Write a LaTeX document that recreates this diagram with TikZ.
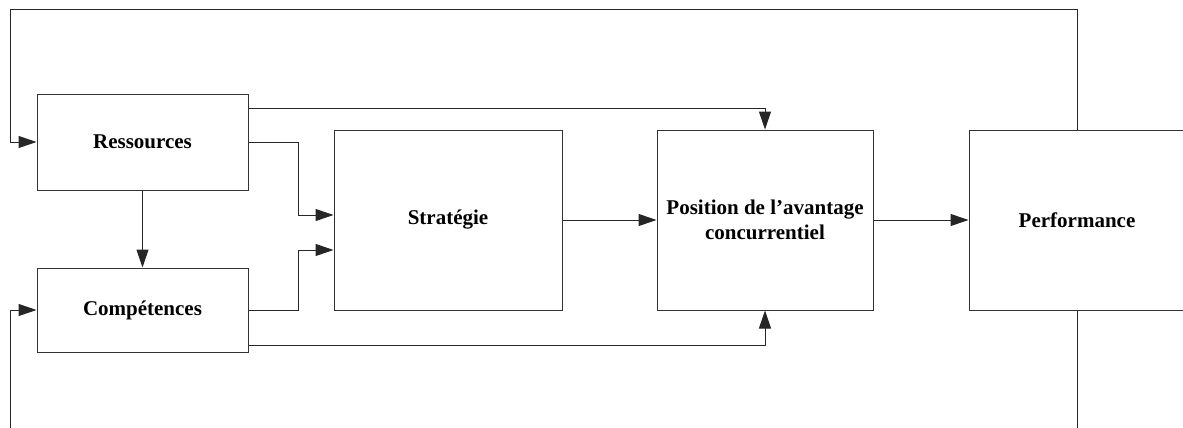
\documentclass[tikz,border=0pt]{standalone}
\usepackage{fontspec}
\setmainfont{Liberation Serif}
\usetikzlibrary{arrows.meta}
\begin{document}
\begin{tikzpicture}[x=1pt,y=-1pt,
  box/.style={draw=black!80,line width=1pt,inner sep=0pt,align=center,
    font=\fontsize{21}{25}\selectfont\bfseries},
  arr/.style={draw=black!85,line width=1pt,-{Triangle[length=18pt,width=12pt]}},
  ln/.style={draw=black!85,line width=1pt}]
\useasboundingbox (0,0) rectangle (1183,428);
\clip (0,0) rectangle (1183,428);
\node[box,minimum width=211,minimum height=96] (res) at (142.5,142) {Ressources};
\node[box,minimum width=211,minimum height=84] (comp) at (142.5,310) {Compétences};
\node[box,minimum width=228,minimum height=180] (strat) at (448,220) {Stratégie};
\node[box,minimum width=216,minimum height=180] (pos) at (765,220) {Position de l’avantage\\concurrentiel};
\node[box,minimum width=216,minimum height=180] (perf) at (1077,220) {Performance};
\coordinate (tl) at (10.5,10);
\coordinate (bl) at (10.5,445);
\draw[arr] (perf.north) |- (tl) |- (res.west);
\draw[arr] (perf.south) |- (bl) |- (comp.west);
\draw[arr] (res.south) -- (comp.north);
\draw[arr] ([yshift=34pt]res.east) -| (pos.north);
\draw[arr] ([yshift=-35pt]comp.east) -| (pos.south);
\draw[arr] (res.east) -- ++(50,0) |- ([yshift=5pt]strat.west);
\draw[arr] (comp.east) -- ++(50,0) |- ([yshift=-30pt]strat.west);
\draw[arr] (strat.east) -- (pos.west);
\draw[arr] (pos.east) -- (perf.west);
\end{tikzpicture}
\end{document}
